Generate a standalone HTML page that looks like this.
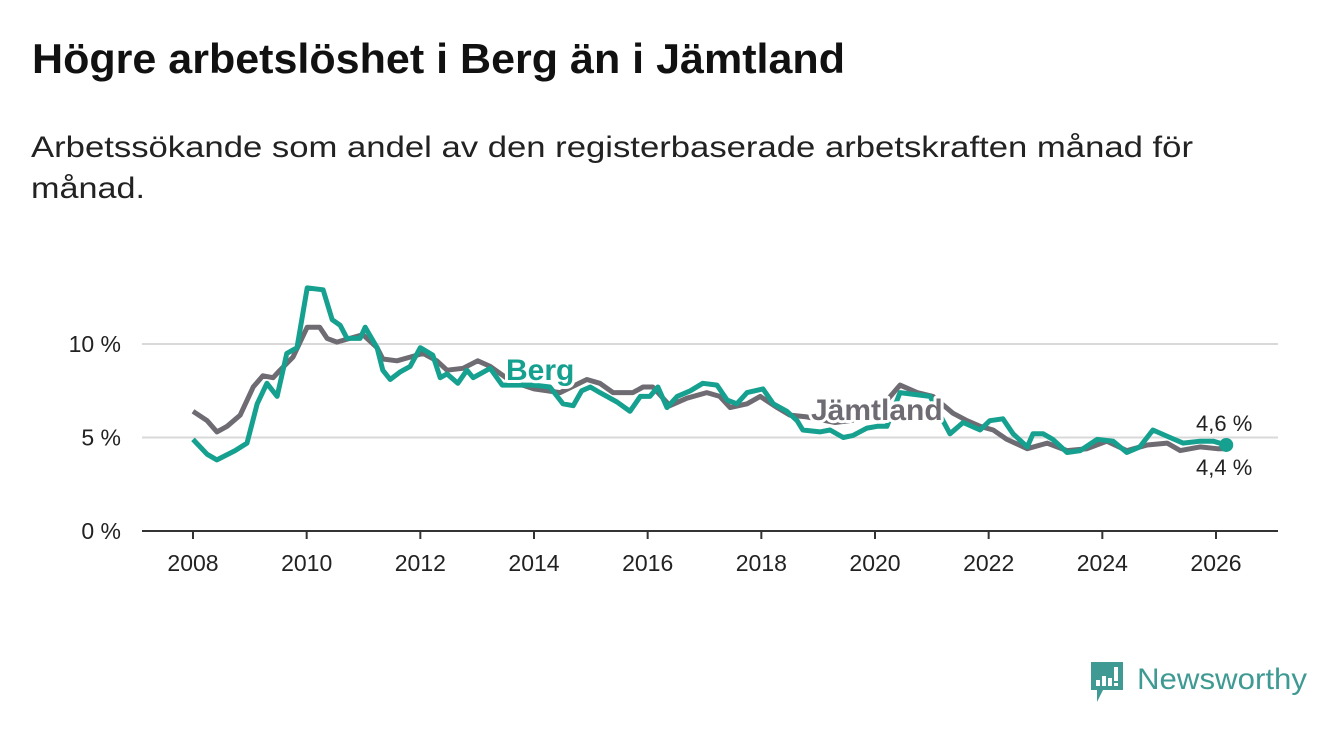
<!DOCTYPE html>
<html><head><meta charset="utf-8"><style>
body{margin:0;background:#fff;}
svg text{font-family:"Liberation Sans",sans-serif;}
</style></head><body>
<svg id="chart" width="1340" height="734" viewBox="0 0 1340 734" xmlns="http://www.w3.org/2000/svg">
<rect width="1340" height="734" fill="#fff"/>
<text x="32" y="73" font-size="42" font-weight="bold" fill="#111" textLength="813" lengthAdjust="spacingAndGlyphs">Högre arbetslöshet i Berg än i Jämtland</text>
<text x="31" y="157" font-size="30" fill="#222" textLength="1162" lengthAdjust="spacingAndGlyphs">Arbetssökande som andel av den registerbaserade arbetskraften månad för</text>
<text x="31" y="198" font-size="30" fill="#222" textLength="114" lengthAdjust="spacingAndGlyphs">månad.</text>
<g id="grid"></g>
<g id="series"></g>
<g id="labels"></g>
<g>
<path d="M1091 662h32v28h-20l-6 12v-12h-6z" fill="#3f9a94"/>
<rect x="1096" y="680" width="4" height="6" fill="#fff"/>
<rect x="1102" y="676" width="4" height="10" fill="#fff"/>
<rect x="1108" y="678" width="4" height="8" fill="#fff"/>
<rect x="1114" y="667" width="4" height="14" fill="#fff"/>
<rect x="1114" y="683" width="4" height="3" fill="#fff"/>
<text x="1137" y="689" font-size="30" fill="#3f9a94" textLength="170" lengthAdjust="spacingAndGlyphs">Newsworthy</text>
</g>
</svg>
<script>
const xTicks = [2008,2010,2012,2014,2016,2018,2020,2022,2024,2026];
const yTicks = [0,5,10];
const yTickLabels = ["0 %","5 %","10 %"];
const bergYears = [2008.00,2008.25,2008.42,2008.74,2008.95,2009.13,2009.30,2009.48,2009.65,2009.83,2010.01,2010.29,2010.45,2010.59,2010.71,2010.94,2011.03,2011.24,2011.34,2011.47,2011.64,2011.82,2012.00,2012.22,2012.35,2012.47,2012.66,2012.82,2012.93,2013.23,2013.44,2013.70,2014.00,2014.28,2014.51,2014.69,2014.84,2014.99,2015.16,2015.46,2015.69,2015.87,2016.04,2016.18,2016.34,2016.52,2016.75,2016.97,2017.22,2017.40,2017.57,2017.75,2018.03,2018.21,2018.45,2018.63,2018.73,2019.03,2019.21,2019.44,2019.61,2019.86,2020.04,2020.21,2020.44,2020.70,2020.97,2021.32,2021.55,2021.85,2022.02,2022.25,2022.43,2022.68,2022.78,2022.96,2023.13,2023.38,2023.61,2023.91,2024.19,2024.43,2024.66,2024.89,2025.19,2025.42,2025.72,2025.95,2026.18];
const bergValues = [4.9,4.1,3.8,4.3,4.7,6.8,7.9,7.2,9.5,9.8,13.0,12.9,11.3,11.0,10.3,10.3,10.9,9.8,8.6,8.1,8.5,8.8,9.8,9.4,8.2,8.4,7.9,8.6,8.2,8.7,7.8,7.8,7.8,7.7,6.8,6.7,7.5,7.7,7.4,6.9,6.4,7.2,7.2,7.7,6.6,7.2,7.5,7.9,7.8,7.0,6.8,7.4,7.6,6.8,6.4,5.9,5.4,5.3,5.4,5.0,5.1,5.5,5.6,5.6,7.4,7.3,7.2,5.2,5.8,5.4,5.9,6.0,5.2,4.5,5.2,5.2,4.9,4.2,4.3,4.9,4.8,4.2,4.5,5.4,5.0,4.7,4.8,4.8,4.6];
const jamtYears = [2008.00,2008.25,2008.42,2008.60,2008.83,2009.06,2009.23,2009.41,2009.53,2009.76,2010.01,2010.23,2010.36,2010.53,2010.76,2010.99,2011.24,2011.34,2011.59,2011.82,2012.05,2012.29,2012.47,2012.75,2013.01,2013.23,2013.60,2014.00,2014.46,2014.93,2015.16,2015.39,2015.74,2015.92,2016.09,2016.39,2016.69,2017.04,2017.27,2017.45,2017.75,2017.98,2018.28,2018.50,2018.80,2019.30,2019.80,2020.10,2020.44,2020.74,2021.02,2021.37,2021.62,2021.85,2022.08,2022.32,2022.68,2023.03,2023.38,2023.73,2024.08,2024.43,2024.79,2025.14,2025.37,2025.72,2026.02,2026.18];
const jamtValues = [6.4,5.9,5.3,5.6,6.2,7.7,8.3,8.2,8.6,9.3,10.9,10.9,10.3,10.1,10.3,10.5,9.8,9.2,9.1,9.3,9.5,9.1,8.6,8.7,9.1,8.8,8.0,7.6,7.4,8.1,7.9,7.4,7.4,7.7,7.7,6.7,7.1,7.4,7.2,6.6,6.8,7.2,6.6,6.2,6.1,5.8,6.0,6.6,7.8,7.4,7.2,6.3,5.9,5.6,5.4,4.9,4.4,4.7,4.3,4.4,4.8,4.3,4.6,4.7,4.3,4.5,4.4,4.4];
const endLabels = ["4,6 %","4,4 %"];

const NS="http://www.w3.org/2000/svg";
const xs = y => 193 + (y-2008)*(1216-193)/18;
const ys = v => 531 - v*18.7;
function mk(tag, attrs, parent){const e=document.createElementNS(NS,tag);for(const k in attrs)e.setAttribute(k,attrs[k]);parent.appendChild(e);return e;}
const grid=document.getElementById('grid'), series=document.getElementById('series'), labels=document.getElementById('labels');

yTicks.forEach((t,i)=>{
  if(t>0){const l=mk('line',{x1:142,x2:1278,y1:ys(t),y2:ys(t),stroke:'#d9d9d9','stroke-width':2},grid);
  
  }
  const tx=mk('text',{x:121,y:ys(t)+8,'font-size':23,fill:'#222','text-anchor':'end'},grid);
  tx.textContent=yTickLabels[i];
  
  
});
const ax=mk('line',{x1:142,x2:1278,y1:531,y2:531,stroke:'#333','stroke-width':2},grid);


xTicks.forEach(t=>{
  const tk=mk('line',{x1:xs(t),x2:xs(t),y1:531,y2:539,stroke:'#333','stroke-width':2},grid);
  
  
  const tx=mk('text',{x:xs(t),y:571,'font-size':23,fill:'#222','text-anchor':'middle'},grid);
  tx.textContent=t;
  
  
});
function path(yrs,vals){return yrs.map((y,i)=>(i?'L':'M')+xs(y).toFixed(1)+','+ys(vals[i]).toFixed(1)).join('');}
const pj=mk('path',{d:path(jamtYears,jamtValues),fill:'none',stroke:'#6f6b72','stroke-width':5,'stroke-linejoin':'round'},series);


const pb=mk('path',{d:path(bergYears,bergValues),fill:'none',stroke:'#16a08f','stroke-width':5,'stroke-linejoin':'round'},series);


const lb=bergYears.length-1;
const dot=mk('circle',{cx:xs(bergYears[lb]),cy:ys(bergValues[lb]),r:7,fill:'#16a08f'},series);



function lab(txt,x,y,size,fill,weight,name){
  const t=mk('text',{x:x,y:y,'font-size':size,fill:fill,'font-weight':weight,stroke:'#fff','stroke-width':6,'paint-order':'stroke','stroke-linejoin':'round'},labels);
  t.textContent=txt;
  
  
}
lab('Berg',506,380,30,'#16a08f','bold','berg-series-label');
lab('Jämtland',811,420,30,'#6f6b72','bold','jamtland-series-label');
lab(endLabels[0],1196,431,22,'#222','normal','berg-end-value');
lab(endLabels[1],1196,475,22,'#222','normal','jamtland-end-value');
</script>
</body></html>
